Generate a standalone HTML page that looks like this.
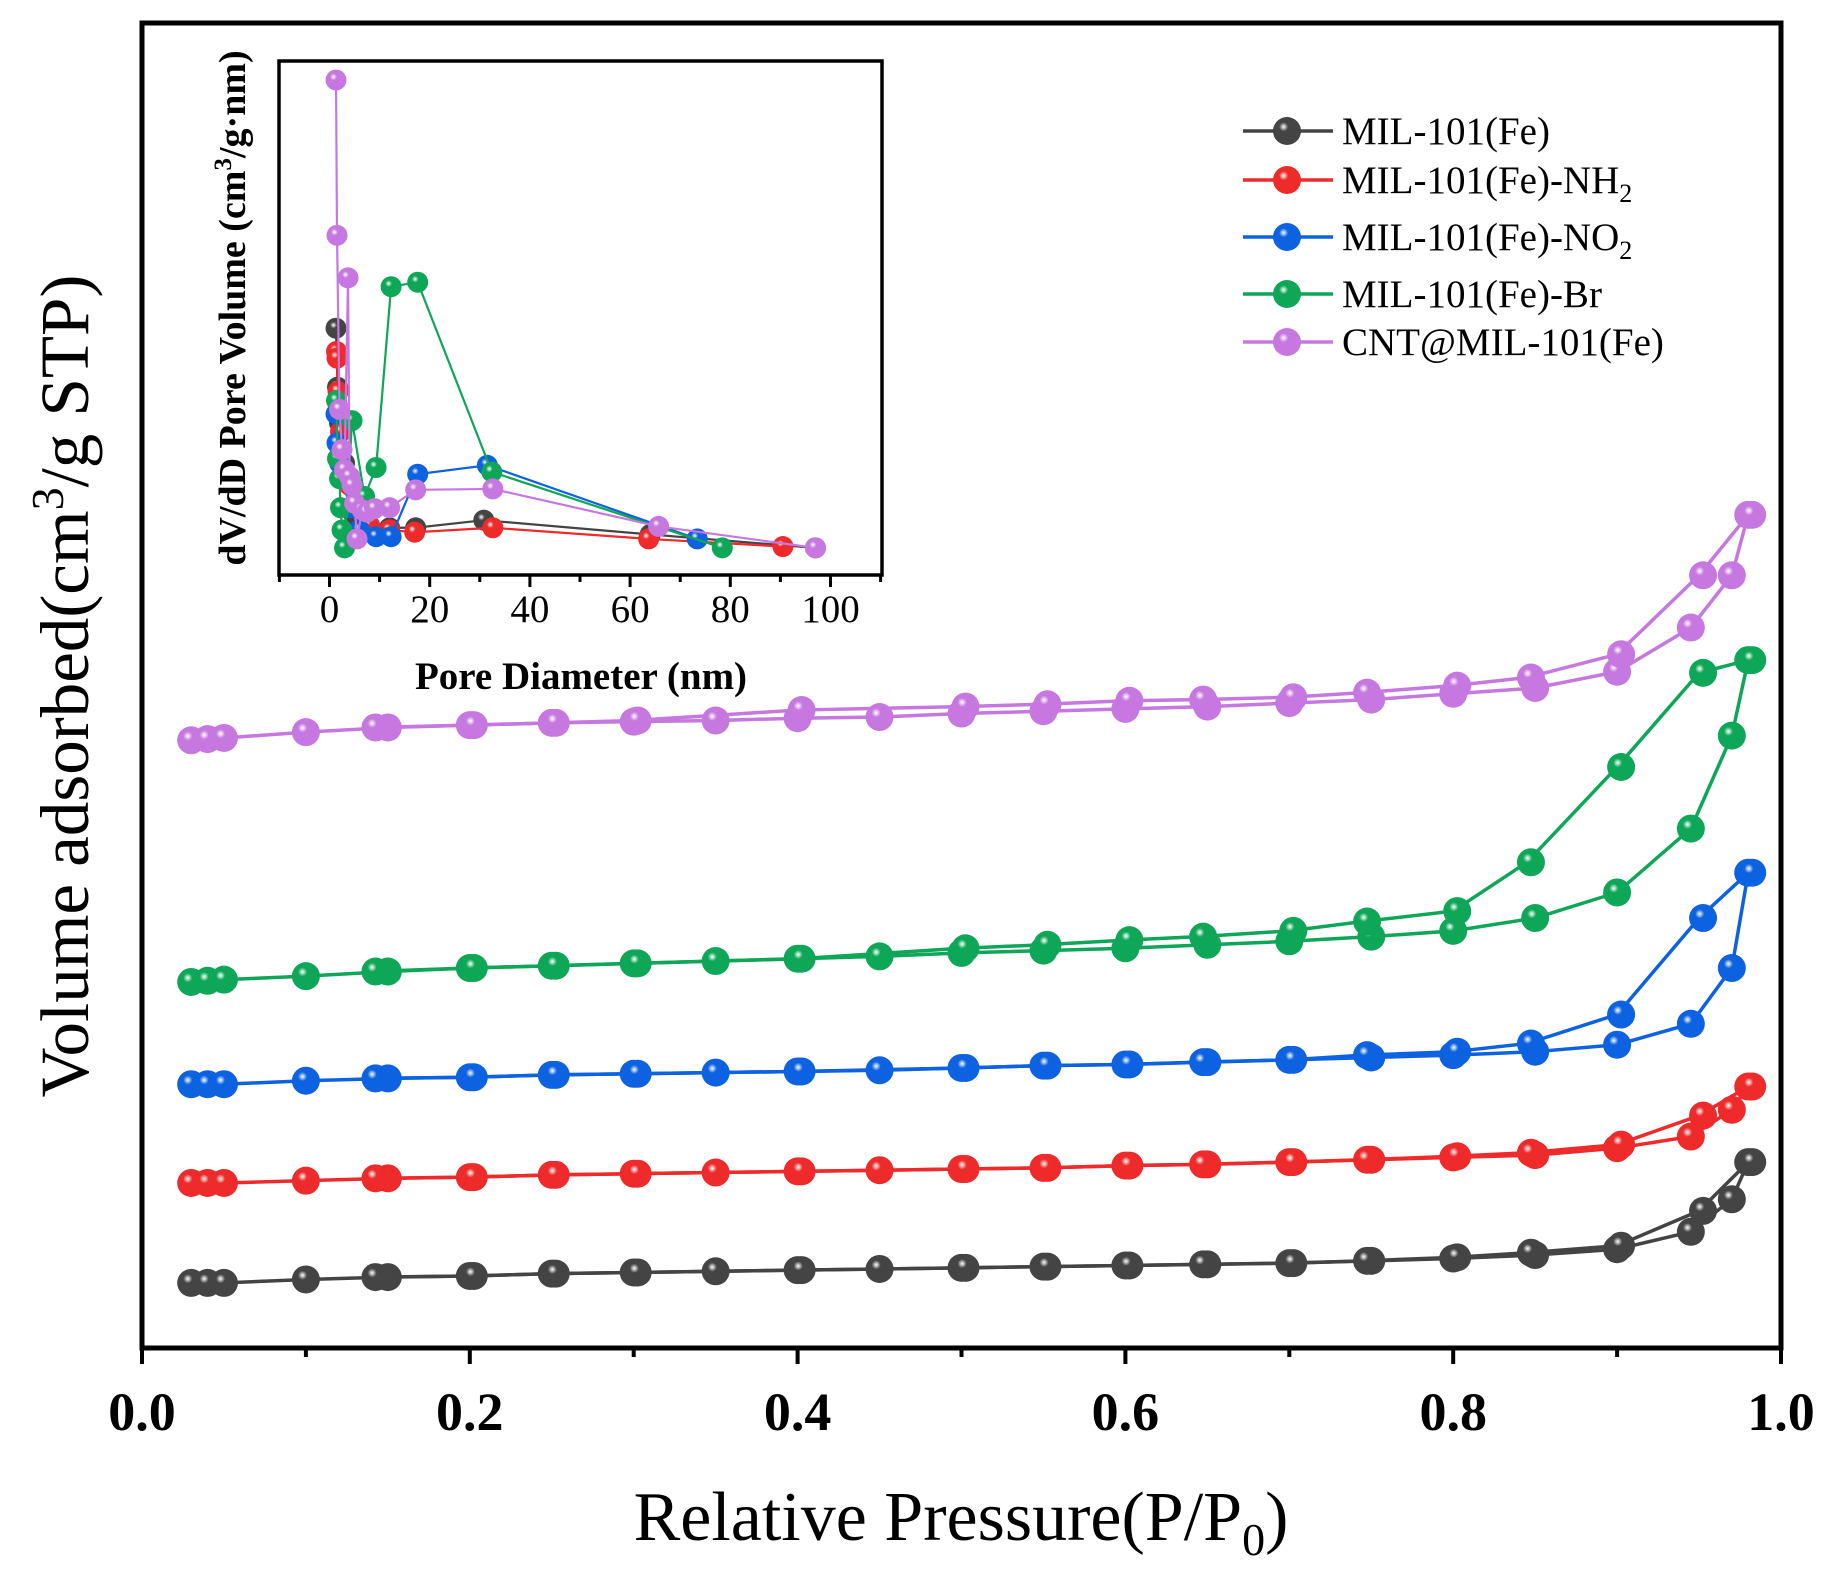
<!DOCTYPE html>
<html><head><meta charset="utf-8"><style>
html,body{margin:0;padding:0;background:#fff;}
svg{display:block;font-family:"Liberation Serif",serif;}
</style></head><body>
<svg id="chart" width="1822" height="1575" viewBox="0 0 1822 1575" xmlns="http://www.w3.org/2000/svg">
<defs id="defs"></defs>
<g id="main-series"></g>
<rect x="142" y="23" width="1639" height="1325" fill="none" stroke="#000" stroke-width="5"/>
<g id="main-ticks"></g>
<text x="961" y="1540" font-size="70" text-anchor="middle">Relative Pressure(P/P<tspan font-size="46" dy="15">0</tspan><tspan dy="-15">)</tspan></text>
<text transform="translate(88,686) rotate(-90)" font-size="69" text-anchor="middle">Volume adsorbed(cm<tspan font-size="46" dy="-25">3</tspan><tspan dy="25">/g STP)</tspan></text>
<g id="inset">
<rect x="279" y="61" width="603" height="514" fill="#fff" stroke="none"/>
<g id="inset-series"></g>
<rect x="279" y="61" width="603" height="514" fill="none" stroke="#000" stroke-width="3.5"/>
<g id="inset-ticks"></g>
<text x="581" y="689" font-size="39" font-weight="bold" text-anchor="middle">Pore Diameter (nm)</text>
<text transform="translate(245,308) rotate(-90)" font-size="38" font-weight="bold" text-anchor="middle">dV/dD Pore Volume (cm<tspan font-size="25" dy="-14">3</tspan><tspan dy="14">/g·nm)</tspan></text>
</g>
<g id="legend"></g>
</svg>
<script>
// ---- main chart data (P/P0, volume in arbitrary units) ----
const names = ["MIL-101(Fe)","MIL-101(Fe)-NH2","MIL-101(Fe)-NO2","MIL-101(Fe)-Br","CNT@MIL-101(Fe)"];
const colors = ["#444444","#ee2a2a","#0c62e0","#0ea657","#c678e0"];
const adsP = [0.03,0.04,0.05,0.1,0.15,0.2,0.25,0.3,0.35,0.4,0.45,0.5,0.55,0.6,0.65,0.7,0.75,0.8,0.85,0.9,0.945,0.97,0.98];
const adsBlack  = [56,56,56,59,61,62,64,65,66,67,68,69,70,71,72,73,75,77,80,85,100,128,160];
const adsRed    = [142,142,142,144,146,147,149,150,151,152,153,154,155,157,158,160,162,164,166,172,182,205,225];
const adsBlue   = [227,227,227,230,232,233,235,236,237,238,239,241,243,244,246,248,250,252,255,261,279,327,409];
const adsGreen  = [315,316,317,320,324,327,329,331,333,335,337,340,342,344,347,350,354,359,370,392,447,527,592];
const adsPurple = [523,524,525,530,534,536,538,539,540,542,543,546,548,550,552,555,558,563,568,582,620,665,717];
const desP = [0.98,0.95,0.9,0.845,0.8,0.745,0.7,0.645,0.6,0.55,0.5,0.4,0.3,0.25,0.2,0.14];
const desBlack  = [160,118,88,82,78,75,73,72,71,70,69,67,65,64,62,61];
const desRed    = [225,200,175,168,165,162,160,158,157,155,154,152,150,149,147,146];
const desBlue   = [409,370,287,262,255,252,248,246,244,243,241,238,236,235,233,232];
const desGreen  = [592,581,500,418,376,367,359,354,351,347,344,335,331,329,327,324];
const desPurple = [717,665,597,577,570,564,560,558,557,554,552,549,540,538,536,534];
const adsAll = [adsBlack,adsRed,adsBlue,adsGreen,adsPurple];
const desAll = [desBlack,desRed,desBlue,desGreen,desPurple];
const xTickLabels = ["0.0","0.2","0.4","0.6","0.8","1.0"];

// ---- inset data (pore diameter nm, dV/dD arbitrary) ----
const inBlackX = [1.3,1.6,2,3,5,8,12,17.2,30.8,64,97];
const inBlackY = [552,420,340,250,130,110,105,105,122,90,60];
const inRedX = [1.4,1.5,1.7,2.2,4,8,12,17,32.6,63.7,90.5];
const inRedY = [500,485,410,320,200,110,100,95,105,80,63];
const inBlueX = [1.3,1.5,2,4,6,9.3,12.3,17.6,31.5,73.4];
const inBlueY = [360,295,250,150,100,85,85,225,245,80];
const inGreenX = [1.4,1.6,2,2.2,2.5,3,4.5,7,9.3,12.3,17.6,32.4,78.4];
const inGreenY = [390,260,215,150,100,60,345,175,240,645,655,230,60];
const inPurpleX = [1.3,1.5,2,2.5,3,3.7,4,4.5,5,5.5,6.5,7.5,9,12,17.2,32.6,65.7,97];
const inPurpleY = [1108,760,370,280,235,665,220,200,160,80,145,140,148,150,190,192,108,60];
const inXs = [inBlackX,inRedX,inBlueX,inGreenX,inPurpleX];
const inYs = [inBlackY,inRedY,inBlueY,inGreenY,inPurpleY];
const inTickLabels = ["0","20","40","60","80","100"];

const NS = "http://www.w3.org/2000/svg";
function mk(tag, attrs, parent){const e=document.createElementNS(NS,tag);for(const k in attrs)e.setAttribute(k,attrs[k]);parent.appendChild(e);return e;}
const px = p => 142 + p*1639;
const py = v => 1348 - v*1.162;
const ix = d => 329.5 + d*5.01;
const iy = v => 30 + (1220 - v)/2.24;

const defs = document.getElementById("defs");
colors.forEach((c,i)=>{
  const g = mk("radialGradient",{id:"g"+i,cx:"0.38",cy:"0.35",r:"0.65"},defs);
  mk("stop",{offset:"0","stop-color":"#ffffff"},g);
  mk("stop",{offset:"0.25","stop-color":c},g);
  mk("stop",{offset:"1","stop-color":c},g);
});

const mg = document.getElementById("main-series");
for(let s=0;s<5;s++){
  const grp = mk("g",{},mg);
  
  
  const a = adsAll[s], d = desAll[s];
  const pa = mk("polyline",{points:adsP.map((p,i)=>px(p)+","+py(a[i])).join(" "),fill:"none",stroke:colors[s],"stroke-width":3.5},grp);
  
  
  const pd = mk("polyline",{points:desP.map((p,i)=>px(p)+","+py(d[i])).join(" "),fill:"none",stroke:colors[s],"stroke-width":3.5},grp);
  
  
  adsP.forEach((p,i)=>{const m=mk("circle",{cx:px(p),cy:py(a[i]),r:14,fill:"url(#g"+s+")"},grp);
    
    });
  desP.forEach((p,i)=>{const m=mk("circle",{cx:px(p)+4,cy:py(d[i]),r:14,fill:"url(#g"+s+")"},grp);
    
    });
}
const mt = document.getElementById("main-ticks");
for(let i=0;i<=10;i++){
  const x = px(i/10);
  mk("line",{x1:x,y1:1348,x2:x,y2:i%2===0?1364:1357,stroke:"#000","stroke-width":4},mt);
}
xTickLabels.forEach((t,i)=>{
  const el = mk("text",{x:px(i*0.2),y:1430,"font-size":54,"font-weight":"bold","text-anchor":"middle"},mt);
  el.textContent = t;
  
  
});

const ig = document.getElementById("inset-series");
for(let s=0;s<5;s++){
  const grp = mk("g",{},ig);
  
  
  const xs = inXs[s], ys = inYs[s];
  const l = mk("polyline",{points:xs.map((x,i)=>ix(x)+","+iy(ys[i])).join(" "),fill:"none",stroke:colors[s],"stroke-width":2.2},grp);
  
  
  xs.forEach((x,i)=>{const m=mk("circle",{cx:ix(x),cy:iy(ys[i]),r:10.5,fill:"url(#g"+s+")"},grp);
    
    });
}
const it = document.getElementById("inset-ticks");
for(let i=-1;i<=11;i++){
  const x = ix(i*10);
  if(x<278||x>883) continue;
  mk("line",{x1:x,y1:575,x2:x,y2:i%2===0?587:582,stroke:"#000","stroke-width":3},it);
}
inTickLabels.forEach((t,i)=>{
  const el = mk("text",{x:ix(i*20),y:622,"font-size":39,"text-anchor":"middle"},it);
  el.textContent = t;
  
  
});

const lg = document.getElementById("legend");
const legY = [131,180,237,294,342];
const legLabels = [["MIL-101(Fe)",""],["MIL-101(Fe)-NH","2"],["MIL-101(Fe)-NO","2"],["MIL-101(Fe)-Br",""],["CNT@MIL-101(Fe)",""]];
for(let s=0;s<5;s++){
  const grp = mk("g",{},lg);
  
  
  mk("line",{x1:1243,y1:legY[s],x2:1333,y2:legY[s],stroke:colors[s],"stroke-width":3.5},grp);
  mk("circle",{cx:1287,cy:legY[s],r:14,fill:"url(#g"+s+")"},grp);
  const t = mk("text",{x:1342,y:legY[s]+13,"font-size":39},grp);
  t.textContent = legLabels[s][0];
  if(legLabels[s][1]){const sp=mk("tspan",{"font-size":26,dy:9},t);sp.textContent=legLabels[s][1];}
}
</script>
</body></html>
